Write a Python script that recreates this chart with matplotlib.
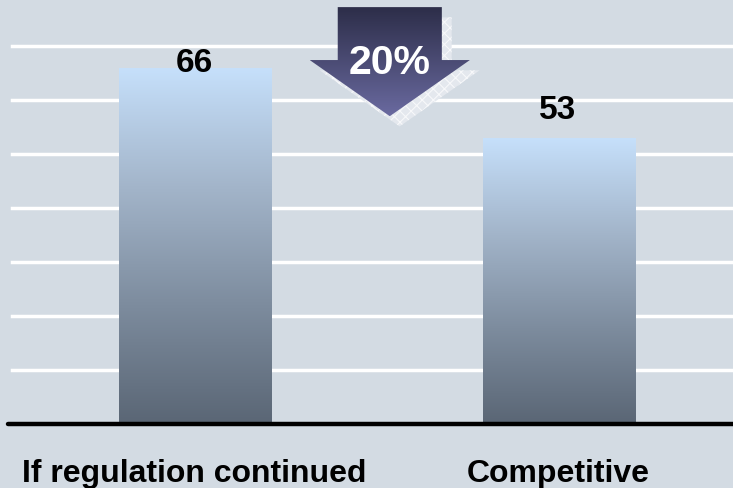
import matplotlib
matplotlib.use("Agg")
import matplotlib.pyplot as plt
import numpy as np
from matplotlib.patches import Polygon, Rectangle
from matplotlib.colors import LinearSegmentedColormap

categories = ["If regulation continued", "Competitive"]
values = [66, 53]
value_labels = ["66", "53"]
change_label = "20%"
grid_values = [10, 20, 30, 40, 50, 60, 70]

plt.rcParams['font.family'] = ['Liberation Sans', 'DejaVu Sans']
plt.rcParams['hatch.linewidth'] = 0.8
BG = "#d3dbe3"

fig = plt.figure(figsize=(7.33, 4.89), dpi=100)
fig.patch.set_facecolor(BG)
ax = fig.add_axes([8/733, (489-425)/489, 725/733, 425/489])
ax.set_facecolor(BG)
ax.set_xlim(-0.515, 1.477)
ax.set_ylim(0, 425/5.4)
for s in ax.spines.values():
    s.set_visible(False)
ax.set_xticks([])
ax.set_yticks([])

for g in grid_values:
    ax.axhline(g, xmin=4/725, xmax=1, color="white", lw=2.5, zorder=1)
ax.axhline(0, color="black", lw=3.2, zorder=5, solid_capstyle='round', clip_on=False)

cmap = LinearSegmentedColormap.from_list("bar", ["#5a6675", "#7d8c9e", "#a3b5ca", "#c6e0fb"])
width = 0.42
grad = np.linspace(0, 1, 256).reshape(-1, 1)
for i, v in enumerate(values):
    rect = Rectangle((i - width/2, 0), width, v, facecolor="none", edgecolor="none", zorder=2)
    ax.add_patch(rect)
    im = ax.imshow(grad, extent=(i - width/2, i + width/2, 0, v), origin="lower",
                   cmap=cmap, aspect="auto", zorder=2, interpolation="bilinear")
    im.set_clip_path(rect)

label_y = [67.0, 58.3]
for i, (lab, ly) in enumerate(zip(value_labels, label_y)):
    ax.text(i - 0.004, ly, lab, ha="center", va="center", fontsize=24, fontweight="bold",
            color="black", zorder=6)

for i, c in enumerate(categories):
    ax.text(i - 0.003, -10.6, c, ha="center", va="baseline", fontsize=23, fontweight="bold",
            color="black", clip_on=False)

# arrow annotation
cx = 0.534
sh = 0.143
hh = 0.22
y_top, y_base, y_tip = 77.2, 67.4, 57.0
def arrow_pts(dx, dy):
    return [(cx - sh + dx, y_top + dy), (cx + sh + dx, y_top + dy), (cx + sh + dx, y_base + dy),
            (cx + hh + dx, y_base + dy), (cx + dx, y_tip + dy), (cx - hh + dx, y_base + dy),
            (cx - sh + dx, y_base + dy)]

shadow = Polygon(arrow_pts(0.027, -1.9), closed=True, facecolor="#e4e8ee", edgecolor="none", zorder=3)
ax.add_patch(shadow)
shadow_h = Polygon(arrow_pts(0.027, -1.9), closed=True, facecolor="none", edgecolor="#f7f8fa",
                   hatch="xxx", lw=0, zorder=3)
ax.add_patch(shadow_h)

arr = Polygon(arrow_pts(0, 0), closed=True, facecolor="none", edgecolor="none", zorder=4)
ax.add_patch(arr)
acmap = LinearSegmentedColormap.from_list("arr", ["#6a6aa0", "#2c2d48"])
aim = ax.imshow(grad, extent=(cx - hh, cx + hh, y_tip, y_top), origin="lower", cmap=acmap,
                aspect="auto", zorder=4, interpolation="bilinear")
aim.set_clip_path(arr)

ax.text(cx, 67.0, change_label, ha="center", va="center", fontsize=29.5, fontweight="bold",
        color="white", zorder=6)

fig.savefig("out.png", dpi=100, facecolor=BG)
